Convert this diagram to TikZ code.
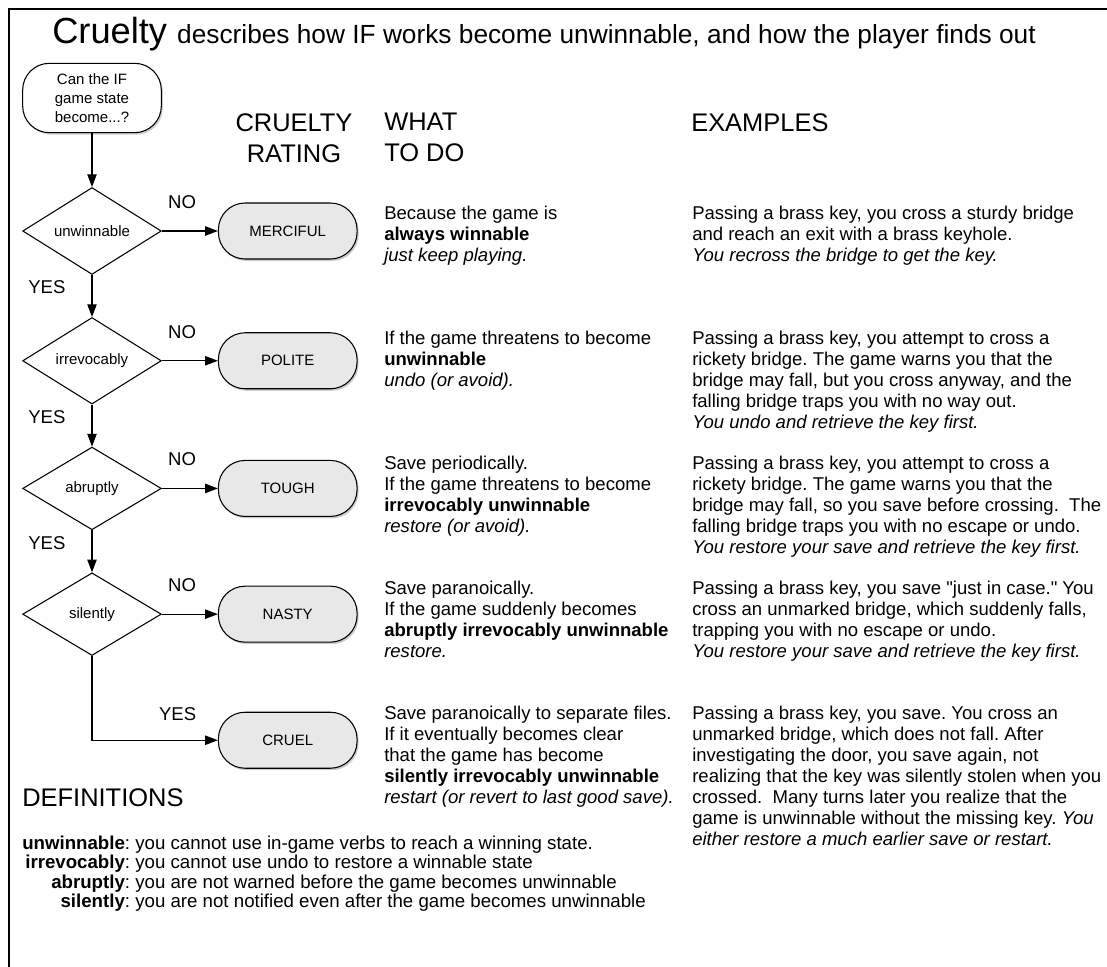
\documentclass[tikz,border=0pt]{standalone}
\usepackage{fontspec}
\setmainfont{Liberation Sans}
\usetikzlibrary{positioning,shapes.geometric,shadows,arrows.meta}

\newlength{\termwidth}
\newcommand{\defterm}[1]{\makebox[\termwidth][r]{\textbf{#1}}}
\frenchspacing

\begin{document}
\begin{tikzpicture}[
    x=0.75pt, y=-0.75pt,
    start/.style={rectangle, rounded corners=20pt, draw=black, thick, fill=white, minimum width=104pt, minimum height=52pt, align=center, inner sep=2pt, font=\fontsize{11.25}{14}\selectfont, drop shadow={opacity=0.4, shadow xshift=1.2pt, shadow yshift=-1.5pt}},
    question/.style={diamond, draw=black, thick, minimum width=104pt, minimum height=62pt, inner sep=0pt, font=\fontsize{11.25}{14}\selectfont},
    rating/.style={rectangle, rounded corners=20pt, draw=black, thick, fill=black!9, minimum width=104pt, minimum height=42pt, font=\fontsize{11.25}{14}\selectfont, drop shadow={opacity=0.4, shadow xshift=1.2pt, shadow yshift=-1.5pt}},
    arrow/.style={-{Triangle[length=9.5pt,width=7pt]}, thick},
    answer/.style={inner sep=0pt, font=\fontsize{13.9}{16}\selectfont},
    header/.style={inner sep=0pt, align=left, font=\fontsize{19.1}{23.25}\selectfont},
    body/.style={inner sep=0pt, anchor=north west, align=left, font=\fontsize{13.9}{15.75}\selectfont},
    node distance=31.5pt
]
\useasboundingbox (0,0) rectangle (1107,967);

% Frame
\draw[line width=2.2pt] (9,967) -- (9,9) -- (1107,9);

% Title
\node[inner sep=0pt, anchor=base west, font=\fontsize{19.7}{23}\selectfont] (title) at (52,43)
  {{\fontsize{27.2}{30}\selectfont Cruelty\ }describes how IF works become unwinnable, and how the player finds out};

% Column headers
\node[header, align=center, anchor=north] (ratinghead) at (294,113) {CRUELTY\\RATING};
\node[header, anchor=north west] (todohead) at (384,113) {WHAT\\TO DO};
\node[header, anchor=north west] (examplehead) at (691,113) {EXAMPLES};

% Questions
\node[start] (start) at (92,98) {Can the IF\\game state\\become...?};
\node[question] (unwinnable) at (92,231) {unwinnable};
\node[question, below=of unwinnable] (irrevocably) {irrevocably};
\node[question, below=of irrevocably] (abruptly) {abruptly};
\node[question, below=of abruptly] (silently) {silently};

% Ratings
\node[rating, right=42pt of unwinnable] (merciful) {MERCIFUL};
\node[rating, right=42pt of irrevocably] (polite) {POLITE};
\node[rating, right=42pt of abruptly] (tough) {TOUGH};
\node[rating, right=42pt of silently] (nasty) {NASTY};
\node[rating, below=51.75pt of nasty] (cruel) {CRUEL};

% Flow
\draw[arrow] (start) -- (unwinnable);
\draw[arrow] (unwinnable) -- node[answer, pos=0.3, left=19.5pt] {YES} (irrevocably);
\draw[arrow] (irrevocably) -- node[answer, pos=0.3, left=19.5pt] {YES} (abruptly);
\draw[arrow] (abruptly) -- node[answer, pos=0.3, left=19.5pt] {YES} (silently);
\draw[arrow] (silently.south) |- node[answer, pos=0.84, above=14.5pt] {YES} (cruel.west);
\draw[arrow] (unwinnable) -- node[answer, pos=0.36, above=16.5pt] {NO} (merciful);
\draw[arrow] (irrevocably) -- node[answer, pos=0.36, above=16.5pt] {NO} (polite);
\draw[arrow] (abruptly) -- node[answer, pos=0.36, above=16.5pt] {NO} (tough);
\draw[arrow] (silently) -- node[answer, pos=0.36, above=16.5pt] {NO} (nasty);

% What to do
\node[body] (todo1) at (384,206) {Because the game is\\\textbf{always winnable}\\\textit{just keep playing.}};
\node[body] (todo2) at (384,331) {If the game threatens to become\\\textbf{unwinnable}\\\textit{undo (or avoid).}};
\node[body] (todo3) at (384,456) {Save periodically.\\If the game threatens to become\\\textbf{irrevocably unwinnable}\\\textit{restore (or avoid).}};
\node[body] (todo4) at (384,581) {Save paranoically.\\If the game suddenly becomes\\\textbf{abruptly irrevocably unwinnable}\\\textit{restore.}};
\node[body] (todo5) at (384,706) {Save paranoically to separate files.\\If it eventually becomes clear\\that the game has become\\\textbf{silently irrevocably unwinnable}\\\textit{restart (or revert to last good save).}};

% Examples
\node[body] (example1) at (692,206) {Passing a brass key, you cross a sturdy bridge\\and reach an exit with a brass keyhole.\\\textit{You recross the bridge to get the key.}};
\node[body] (example2) at (692,331) {Passing a brass key, you attempt to cross a\\rickety bridge. The game warns you that the\\bridge may fall, but you cross anyway, and the\\falling bridge traps you with no way out.\\\textit{You undo and retrieve the key first.}};
\node[body] (example3) at (692,456) {Passing a brass key, you attempt to cross a\\rickety bridge. The game warns you that the\\bridge may fall, so you save before crossing.\ \ The\\falling bridge traps you with no escape or undo.\\\textit{You restore your save and retrieve the key first.}};
\node[body] (example4) at (692,581) {Passing a brass key, you save \textquotedbl just in case.\textquotedbl\ You\\cross an unmarked bridge, which suddenly falls,\\trapping you with no escape or undo.\\\textit{You restore your save and retrieve the key first.}};
\node[body] (example5) at (692,706) {Passing a brass key, you save. You cross an\\unmarked bridge, which does not fall. After\\investigating the door, you save again, not\\realizing that the key was silently stolen when you\\crossed.\ \ Many turns later you realize that the\\game is unwinnable without the missing key. \textit{You}\\\textit{either restore a much earlier save or restart.}};

% Definitions
\node[header, anchor=base west] (defhead) at (22,806) {DEFINITIONS};
\node[inner sep=0pt, anchor=north west, font=\fontsize{14}{14}\selectfont] (defs) at (22,836) {%
  \settowidth{\termwidth}{\textbf{unwinnable}}%
  \begin{tabular}{@{}l@{}}
  \defterm{unwinnable}: you cannot use in-game verbs to reach a winning state.\\
  \defterm{irrevocably}: you cannot use undo to restore a winnable state\\
  \defterm{abruptly}: you are not warned before the game becomes unwinnable\\
  \defterm{silently}: you are not notified even after the game becomes unwinnable
  \end{tabular}};
\end{tikzpicture}
\end{document}
